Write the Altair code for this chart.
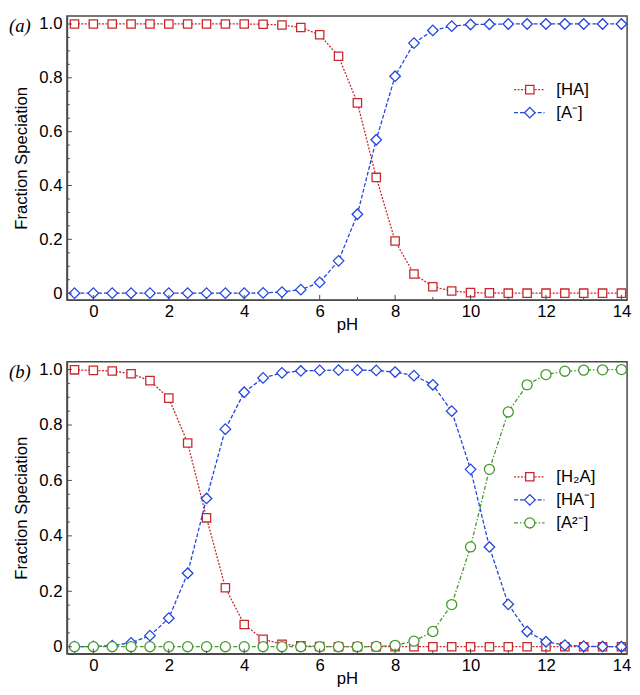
import altair as alt
import pandas as pd

# ---------------- data ----------------
ph = [-0.5, 0, 0.5, 1, 1.5, 2, 2.5, 3, 3.5, 4, 4.5, 5, 5.5, 6, 6.5,
      7, 7.5, 8, 8.5, 9, 9.5, 10, 10.5, 11, 11.5, 12, 12.5, 13, 13.5, 14]

# panel (a)
ha = [1.0, 1.0, 1.0, 1.0, 1.0, 1.0, 1.0, 1.0, 1.0, 1.0,
      0.999, 0.996, 0.987, 0.96, 0.88, 0.707, 0.43, 0.194, 0.071, 0.024,
      0.008, 0.002, 0.001, 0, 0, 0, 0, 0, 0, 0]
a_minus = [0, 0, 0, 0, 0, 0, 0, 0, 0, 0,
           0.001, 0.004, 0.013, 0.04, 0.12, 0.293, 0.57, 0.806, 0.929, 0.976,
           0.992, 0.998, 0.999, 1.0, 1.0, 1.0, 1.0, 1.0, 1.0, 1.0]

# panel (b)
h2a = [0.999, 0.997, 0.995, 0.985, 0.96, 0.897, 0.735, 0.465, 0.213, 0.08,
       0.027, 0.009, 0.003, 0.001, 0, 0, 0, 0, 0, 0,
       0, 0, 0, 0, 0, 0, 0, 0, 0, 0]
ha_minus = [0.0, 0.001, 0.004, 0.014, 0.04, 0.103, 0.265, 0.535, 0.785, 0.918,
            0.97, 0.988, 0.995, 0.997, 0.998, 0.998, 0.997, 0.991, 0.978, 0.945,
            0.85, 0.64, 0.36, 0.153, 0.055, 0.018, 0.006, 0.002, 0.001, 0.0]
a2_minus = [0, 0, 0, 0, 0, 0, 0, 0, 0, 0,
            0, 0, 0, 0, 0, 0, 0.001, 0.005, 0.02, 0.055,
            0.152, 0.36, 0.64, 0.847, 0.945, 0.982, 0.994, 0.998, 0.999, 1.0]

labels_a = ["[HA]", "[A\u207b]"]
labels_b = ["[H\u2082A]", "[HA\u207b]", "[A\u00b2\u207b]"]

x_major = [0, 2, 4, 6, 8, 10, 12, 14]
x_minor = [1, 3, 5, 7, 9, 11, 13]
y_major = [0, 0.2, 0.4, 0.6, 0.8, 1.0]
y_minor = [0.05, 0.1, 0.15, 0.25, 0.3, 0.35, 0.45, 0.5, 0.55,
           0.65, 0.7, 0.75, 0.85, 0.9, 0.95]

# ---------------- styles ----------------
FONT = "Liberation Sans"
FS = 17
RED, BLUE, GREEN = "#c8282d", "#2146dd", "#45982c"
AXC = "#4a4a4a"
W = 570

styles = {
    "red": dict(color=RED, shape="square", size=72, dash=[2, 1.5]),
    "blue": dict(color=BLUE, shape="diamond", size=115, dash=[4, 2]),
    "green": dict(color=GREEN, shape="circle", size=105, dash=[4, 2, 1.5, 2]),
}


def panel(series, tag, H, ydom, legend_y):
    xenc = alt.X("pH:Q",
                 scale=alt.Scale(domain=[-0.7, 14.15], nice=False, zero=False),
                 axis=alt.Axis(values=x_major, format="d", ticks=False, tickSize=0,
                               labelPadding=4, title="pH", titlePadding=-3,
                               grid=False))
    yaxis = alt.Axis(values=y_major, ticks=False, tickSize=0, labelPadding=5,
                     labelExpr="datum.value == 0 ? '0' : format(datum.value, '.1f')",
                     title="Fraction Speciation", titlePadding=9, grid=False)
    yscale = alt.Scale(domain=ydom, nice=False, zero=False)

    layers = []
    for name, vals, st in series:
        s = styles[st]
        df = pd.DataFrame({"pH": ph, "v": vals})
        base = alt.Chart(df)
        layers.append(base.mark_line(color=s["color"], strokeDash=s["dash"],
                                     strokeWidth=1.3).encode(
            x=xenc, y=alt.Y("v:Q", scale=yscale, axis=yaxis)))
        layers.append(base.mark_point(shape=s["shape"], size=s["size"], filled=True,
                                      fill="white", stroke=s["color"],
                                      strokeWidth=1.3, opacity=1).encode(
            x=xenc, y=alt.Y("v:Q", scale=yscale, axis=yaxis)))

    # inward ticks
    for vals, ln in ((x_major, 5), (x_minor, 3)):
        layers.append(alt.Chart(pd.DataFrame({"pH": vals})).mark_rule(
            color=AXC, strokeWidth=1).encode(
            x=xenc, y=alt.value(H), y2=alt.value(H - ln)))
    for vals, ln in ((y_major, 5), (y_minor, 3)):
        layers.append(alt.Chart(pd.DataFrame({"v": vals})).mark_rule(
            color=AXC, strokeWidth=1).encode(
            y=alt.Y("v:Q", scale=yscale, axis=yaxis), x=alt.value(0), x2=alt.value(ln)))

    # manual legend
    for i, (name, vals, st) in enumerate(series):
        s = styles[st]
        ly = legend_y + i * 23.5
        ldf = pd.DataFrame({"label": [name]})
        lb = alt.Chart(ldf)
        layers.append(lb.mark_rule(color=s["color"], strokeDash=s["dash"],
                                   strokeWidth=1.3).encode(
            x=alt.value(455), x2=alt.value(486), y=alt.value(ly)))
        layers.append(lb.mark_point(shape=s["shape"], size=s["size"], filled=True,
                                    fill="white", stroke=s["color"], strokeWidth=1.3,
                                    opacity=1).encode(
            x=alt.value(471), y=alt.value(ly)))
        layers.append(lb.mark_text(align="left", baseline="middle", fontSize=FS,
                                   font=FONT, color="black").encode(
            x=alt.value(498), y=alt.value(ly), text="label:N"))

    # panel tag
    layers.append(alt.Chart(pd.DataFrame({"t": [tag]})).mark_text(
        align="left", baseline="middle", font="Liberation Serif", fontStyle="italic",
        fontSize=19, color="black").encode(
        x=alt.value(-59), y=alt.value(10), text="t:N"))

    return alt.layer(*layers).properties(width=W, height=H)


top = panel([(labels_a[0], ha, "red"), (labels_a[1], a_minus, "blue")],
            "(a)", 289, [-0.025, 1.03], 75)
bottom = panel([(labels_b[0], h2a, "red"), (labels_b[1], ha_minus, "blue"),
                (labels_b[2], a2_minus, "green")],
               "(b)", 297, [-0.025, 1.028], 117)

chart = alt.vconcat(top, bottom, spacing=27).properties(
    padding=0
).configure_view(
    stroke=AXC, strokeWidth=1.5
).configure_axis(
    domainColor=AXC, domainWidth=1.5, labelFont=FONT, titleFont=FONT,
    labelFontSize=FS, titleFontSize=FS, labelColor="black", titleColor="black",
    titleFontWeight="normal"
)

chart.save("out.html", embed_options={"renderer": "svg", "actions": False})
